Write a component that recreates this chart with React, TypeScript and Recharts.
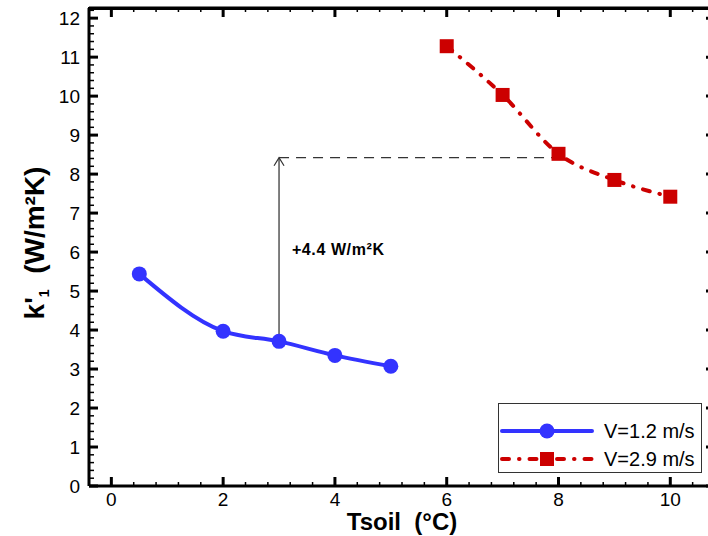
import React from "react";
import {
  LineChart,
  Line,
  XAxis,
  YAxis,
  ReferenceLine,
  ReferenceDot,
  Legend,
  Label,
} from "recharts";

// V = 1.2 m/s
const tsoilSlow = [0.5, 2, 3, 4, 5];
const kSlow = [5.44, 3.97, 3.71, 3.35, 3.07];
// V = 2.9 m/s
const tsoilFast = [6, 7, 8, 9, 10];
const kFast = [11.28, 10.03, 8.52, 7.85, 7.42];

const seriesNames = ["V=1.2 m/s", "V=2.9 m/s"];

const xMajorTicks = [0, 2, 4, 6, 8, 10];
const yMajorTicks = [0, 1, 2, 3, 4, 5, 6, 7, 8, 9, 10, 11, 12];
const X_MINOR_STEP = 0.4;
const Y_MINOR_STEP = 0.2;
const X_DOMAIN: [number, number] = [-0.4, 10.8];
const Y_DOMAIN: [number, number] = [0, 12.26];

// annotation: gap between the two curves
const ARROW_X = 3;
const ARROW_FROM = 3.71;
const ARROW_TO = 8.42;
const GUIDE_END_X = 8;
const NOTE_TEXT = "+4.4 W/m²K";
const NOTE_X = 3.23;
const NOTE_Y = 5.93;

const BLUE = "#3333ff";
const RED = "#cc0000";
const FONT = "'Liberation Sans', Arial, sans-serif";
const RED_DASH = "7 10 0.5 10";

// layout
const CHART_W = 716;
const CHART_H = 536;
const MARGIN = { top: 8, right: 1, bottom: 0, left: 0 };
const Y_AXIS_W = 89;
const X_AXIS_H = 50;
const PLOT_TOP = MARGIN.top;
const PLOT_RIGHT = CHART_W - MARGIN.right;

const slowData = tsoilSlow.map((t, i) => ({ t, k: kSlow[i] }));
const fastData = tsoilFast.map((t, i) => ({ t, k: kFast[i] }));

function stepTicks(from: number, to: number, step: number) {
  const out: number[] = [];
  for (let v = from; v <= to + 1e-9; v += step) out.push(Math.round(v * 1000) / 1000);
  return out;
}

const xTicks = stepTicks(0, 10.4, X_MINOR_STEP);
const yTicks = stepTicks(0, 12.2, Y_MINOR_STEP);

const isXMajor = (v: number) => xMajorTicks.includes(v);
const isYMajor = (v: number) => yMajorTicks.includes(v);

// bottom ticks also mirror onto the top frame edge
const BottomTick = (props: any) => {
  const { x, y, payload } = props;
  const major = isXMajor(payload.value);
  const len = major ? 9 : 4;
  const sw = major ? 3 : 1.5;
  return (
    <g>
      <line x1={x} x2={x} y1={y} y2={y - len} stroke="#000" strokeWidth={sw} />
      <line x1={x} x2={x} y1={PLOT_TOP} y2={PLOT_TOP + len} stroke="#000" strokeWidth={sw} />
      {major && (
        <text x={x} y={y + 20} textAnchor="middle" fontSize={19} fontFamily={FONT} fill="#000">
          {payload.value}
        </text>
      )}
    </g>
  );
};

// left ticks, major ones mirrored onto the right frame edge
const LeftTick = (props: any) => {
  const { x, y, payload } = props;
  const major = isYMajor(payload.value);
  return (
    <g>
      <line x1={x} x2={x + (major ? 9 : 5)} y1={y} y2={y} stroke="#000" strokeWidth={major ? 3 : 1.5} />
      {major && (
        <line x1={PLOT_RIGHT} x2={PLOT_RIGHT - 9} y1={y} y2={y} stroke="#000" strokeWidth={3} />
      )}
      {major && (
        <text x={x - 9} y={y + 7} textAnchor="end" fontSize={19} fontFamily={FONT} fill="#000">
          {payload.value}
        </text>
      )}
    </g>
  );
};

const XTitle = (props: any) => {
  const { viewBox } = props;
  return (
    <text
      x={viewBox.x + viewBox.width / 2}
      y={viewBox.y + 44}
      textAnchor="middle"
      fontSize={24}
      fontWeight="bold"
      fontFamily={FONT}
      fill="#000"
    >
      {"Tsoil\u00a0 (°C)"}
    </text>
  );
};

const YTitle = (props: any) => {
  const { viewBox } = props;
  const cx = 44;
  const cy = viewBox.y + viewBox.height / 2 - 4;
  return (
    <text
      x={cx}
      y={cy}
      transform={`rotate(-90, ${cx}, ${cy})`}
      textAnchor="middle"
      fontSize={28}
      fontWeight="bold"
      fontFamily={FONT}
      fill="#000"
    >
      k'
      <tspan fontSize={14} dy={5}>
        1
      </tspan>
      <tspan dy={-5}>{"\u00a0 (W/m²K)"}</tspan>
    </text>
  );
};

const Arrow = (props: any) => {
  const { x1, y1, x2, y2 } = props;
  return (
    <g>
      <line x1={x1} y1={y1} x2={x2} y2={y2} stroke="#555" strokeWidth={1.5} />
      <polyline
        points={`${x2 - 5},${y2 + 8} ${x2},${y2} ${x2 + 5},${y2 + 8}`}
        fill="none"
        stroke="#333"
        strokeWidth={1.2}
      />
    </g>
  );
};

const Note = (props: any) => {
  const { viewBox } = props;
  return (
    <text
      x={viewBox.x}
      y={viewBox.y}
      fontSize={16}
      letterSpacing={0.6}
      fontWeight="bold"
      fontFamily={FONT}
      fill="#000"
    >
      {NOTE_TEXT}
    </text>
  );
};

const SquareDot = (props: any) => {
  const { cx, cy, index } = props;
  return <rect key={index} x={cx - 7} y={cy - 7} width={14} height={14} fill={RED} />;
};

const LegendBox = () => (
  <div
    style={{
      width: 204,
      height: 70,
      border: "1px solid #333",
      boxSizing: "border-box",
      background: "#fff",
    }}
  >
    <svg width={202} height={68} style={{ display: "block" }}>
      <line x1={3} x2={93} y1={27} y2={27} stroke={BLUE} strokeWidth={4} strokeLinecap="round" />
      <circle cx={48} cy={27} r={7.5} fill={BLUE} />
      <text x={105} y={34} fontSize={20} fontFamily={FONT} fill="#000">
        {seriesNames[0]}
      </text>
      <line
        x1={3}
        x2={93}
        y1={55}
        y2={55}
        stroke={RED}
        strokeWidth={4}
        strokeLinecap="round"
        strokeDasharray={RED_DASH}
      />
      <rect x={41} y={48} width={14} height={14} fill={RED} />
      <text x={105} y={62} fontSize={20} fontFamily={FONT} fill="#000">
        {seriesNames[1]}
      </text>
    </svg>
  </div>
);

export default function App() {
  return (
    <div
      style={{
        position: "absolute",
        left: 0,
        top: 0,
        width: 708,
        height: 536,
        overflow: "hidden",
        background: "#fff",
      }}
    >
      <LineChart width={CHART_W} height={CHART_H} margin={MARGIN}>
        <XAxis
          dataKey="t"
          type="number"
          domain={X_DOMAIN}
          allowDataOverflow
          ticks={xTicks}
          interval={0}
          height={X_AXIS_H}
          tickSize={0}
          tickMargin={0}
          tick={BottomTick}
          axisLine={{ stroke: "#000", strokeWidth: 3 }}
        >
          <Label content={XTitle} />
        </XAxis>
        <YAxis
          type="number"
          domain={Y_DOMAIN}
          allowDataOverflow
          ticks={yTicks}
          interval={0}
          width={Y_AXIS_W}
          tickSize={0}
          tickMargin={0}
          tick={LeftTick}
          axisLine={{ stroke: "#000", strokeWidth: 3 }}
        >
          <Label content={YTitle} />
        </YAxis>
        {/* top and right frame edges */}
        <ReferenceLine y={Y_DOMAIN[1]} stroke="#000" strokeWidth={3} ifOverflow="visible" />
        <ReferenceLine x={X_DOMAIN[1]} stroke="#000" strokeWidth={3} ifOverflow="visible" />
        <ReferenceLine
          segment={[
            { x: ARROW_X, y: ARROW_TO },
            { x: GUIDE_END_X, y: ARROW_TO },
          ]}
          stroke="#000"
          strokeWidth={1}
          strokeDasharray="10 7"
        />
        <ReferenceLine
          segment={[
            { x: ARROW_X, y: ARROW_FROM },
            { x: ARROW_X, y: ARROW_TO },
          ]}
          shape={Arrow}
        />
        <ReferenceDot x={NOTE_X} y={NOTE_Y} r={0} stroke="none" fill="none">
          <Label content={Note} />
        </ReferenceDot>
        <Line
          data={slowData}
          dataKey="k"
          name={seriesNames[0]}
          type="monotone"
          stroke={BLUE}
          strokeWidth={4}
          dot={{ r: 7.5, fill: BLUE, stroke: "none" }}
          activeDot={false}
          isAnimationActive={false}
        />
        <Line
          data={fastData}
          dataKey="k"
          name={seriesNames[1]}
          type="monotone"
          stroke={RED}
          strokeWidth={4}
          strokeLinecap="round"
          strokeDasharray={RED_DASH}
          dot={SquareDot}
          activeDot={false}
          isAnimationActive={false}
        />
        <Legend
          layout="vertical"
          align="center"
          verticalAlign="middle"
          wrapperStyle={{ left: 498, top: 403, width: 204, height: 70 }}
          content={LegendBox}
        />
      </LineChart>
      {/* fallback for the top frame edge */}
      <div
        style={{
          position: "absolute",
          left: Y_AXIS_W - 1.5,
          top: PLOT_TOP - 1.5,
          width: PLOT_RIGHT - Y_AXIS_W + 3,
          height: 3,
          background: "#000",
          zIndex: 5,
          pointerEvents: "none",
        }}
      />
    </div>
  );
}
